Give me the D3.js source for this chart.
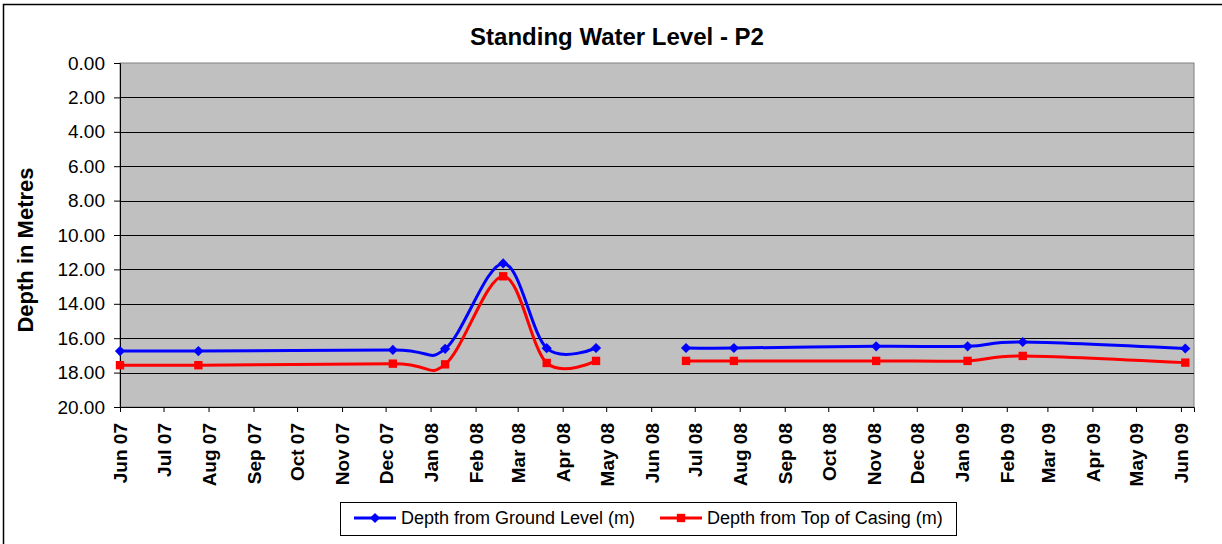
<!DOCTYPE html>
<html lang="en">
<head>
<meta charset="utf-8">
<title>Standing Water Level - P2</title>
<script src="https://cdn.jsdelivr.net/npm/d3@7"></script>
<style>
  body { margin: 0; background: #fff; }
  text { font-family: "Liberation Sans", Arial, sans-serif; fill: #000; }
</style>
</head>
<body>
<div id="chart"></div>
<script>
// data
const tickLabels = ["Jun 07", "Jul 07", "Aug 07", "Sep 07", "Oct 07", "Nov 07", "Dec 07",
  "Jan 08", "Feb 08", "Mar 08", "Apr 08", "May 08", "Jun 08", "Jul 08", "Aug 08", "Sep 08",
  "Oct 08", "Nov 08", "Dec 08", "Jan 09", "Feb 09", "Mar 09", "Apr 09", "May 09", "Jun 09"];
const yTicks = [0, 2, 4, 6, 8, 10, 12, 14, 16, 18, 20];

// blank reading in June 08 leaves a gap in both lines
const sampleDates = ["2007-06-12", "2007-08-05", "2007-12-17", "2008-01-22", "2008-03-02",
  "2008-04-01", "2008-05-05", "2008-06-05", "2008-07-06", "2008-08-08", "2008-11-14",
  "2009-01-16", "2009-02-23", "2009-06-15"];
const groundLevel = [16.75, 16.75, 16.68, 16.62, 11.65, 16.58, 16.57, null,
  16.57, 16.57, 16.47, 16.47, 16.22, 16.6];
const casingTop = [17.57, 17.57, 17.48, 17.52, 12.4, 17.44, 17.32, null,
  17.32, 17.32, 17.32, 17.32, 17.03, 17.42];

const width = 1222, height = 544;
const plotLeft = 120, plotRight = 1194, plotTop = 63, plotBottom = 407;

const parseDay = d3.timeParse("%Y-%m-%d");
const parseTick = d3.timeParse("%d %b %y");
const tickDates = tickLabels.map(l => parseTick("12 " + l));

const x = d3.scaleTime()
  .domain([parseDay("2007-06-12"), parseDay("2009-06-21")])
  .range([plotLeft, plotRight]);
const y = d3.scaleLinear().domain([0, 20]).range([plotTop, plotBottom]);

const svg = d3.select("#chart").append("svg")
  .attr("width", width).attr("height", height);

// outer chart frame
svg.append("rect")
  .attr("x", 3.5).attr("y", 4.5).attr("width", 1240).attr("height", 560)
  .attr("fill", "none").attr("stroke", "#000").attr("stroke-width", 1.5);

svg.append("text")
  .attr("x", 617).attr("y", 45)
  .attr("text-anchor", "middle")
  .style("font-size", "24px").style("font-weight", "bold")
  .text("Standing Water Level - P2");

// plot area
svg.append("rect")
  .attr("x", plotLeft).attr("y", plotTop)
  .attr("width", plotRight - plotLeft).attr("height", plotBottom - plotTop)
  .attr("fill", "#c0c0c0").attr("stroke", "#808080");

// gridlines
svg.append("g").selectAll("line")
  .data(yTicks.filter(v => v > 0 && v < 20))
  .enter().append("line")
  .attr("x1", plotLeft).attr("x2", plotRight)
  .attr("y1", d => Math.round(y(d)) + 0.5).attr("y2", d => Math.round(y(d)) + 0.5)
  .attr("stroke", "#000");

// y axis
const yAxis = svg.append("g")
  .attr("transform", `translate(${plotLeft},0)`)
  .call(d3.axisLeft(y).tickValues(yTicks).tickFormat(d3.format(".2f")).tickSize(6).tickPadding(9));
yAxis.select(".domain").attr("stroke", "#000");
yAxis.selectAll("text").style("font-size", "19px");

svg.append("text")
  .attr("transform", "translate(25,250) rotate(-90)")
  .attr("text-anchor", "middle").attr("dy", "0.35em")
  .style("font-size", "22px").style("font-weight", "bold")
  .text("Depth in Metres");

// x axis
const xAxis = svg.append("g")
  .attr("transform", `translate(0,${plotBottom})`)
  .call(d3.axisBottom(x).tickValues(tickDates).tickFormat((d, i) => tickLabels[i]).tickSize(5));
xAxis.select(".domain").attr("stroke", "#000");
xAxis.selectAll("text")
  .style("font-size", "19px").style("font-weight", "bold")
  .attr("text-anchor", "end")
  .attr("transform", "rotate(-90)")
  .attr("x", -16).attr("y", 0).attr("dy", "0.36em");

// series (diamond = square turned 45 degrees, like Excel's marker)
const series = [
  { name: "Depth from Ground Level (m)", values: groundLevel, color: "#0000ff", size: 52, rot: 45 },
  { name: "Depth from Top of Casing (m)", values: casingTop, color: "#ff0000", size: 70, rot: 0 }
];

const line = d3.line()
  .defined(d => d.v != null)
  .x(d => x(d.date)).y(d => y(d.v))
  .curve(d3.curveCatmullRom.alpha(0));

series.forEach(s => {
  const pts = sampleDates.map((d, i) => ({ date: parseDay(d), v: s.values[i] }));
  svg.append("path")
    .datum(pts)
    .attr("d", line)
    .attr("fill", "none").attr("stroke", s.color).attr("stroke-width", 3);
  svg.append("g").selectAll("path")
    .data(pts.filter(d => d.v != null))
    .enter().append("path")
    .attr("d", d3.symbol().type(d3.symbolSquare).size(s.size))
    .attr("transform", d => `translate(${x(d.date)},${y(d.v)}) rotate(${s.rot})`)
    .attr("fill", s.color);
});

// legend
const legend = svg.append("g");
legend.append("rect")
  .attr("x", 340.5).attr("y", 502.5).attr("width", 616).attr("height", 33)
  .attr("fill", "#fff").attr("stroke", "#000");
const legendX = [354, 660];
series.forEach((s, i) => {
  const g = legend.append("g").attr("transform", `translate(${legendX[i]},518)`);
  g.append("line").attr("x1", 0).attr("x2", 42)
    .attr("stroke", s.color).attr("stroke-width", 3);
  g.append("path")
    .attr("d", d3.symbol().type(d3.symbolSquare).size(s.size))
    .attr("transform", `translate(21,0) rotate(${s.rot})`).attr("fill", s.color);
  g.append("text").attr("x", 47).attr("dy", "0.35em")
    .style("font-size", "18px").text(s.name);
});
</script>
</body>
</html>
